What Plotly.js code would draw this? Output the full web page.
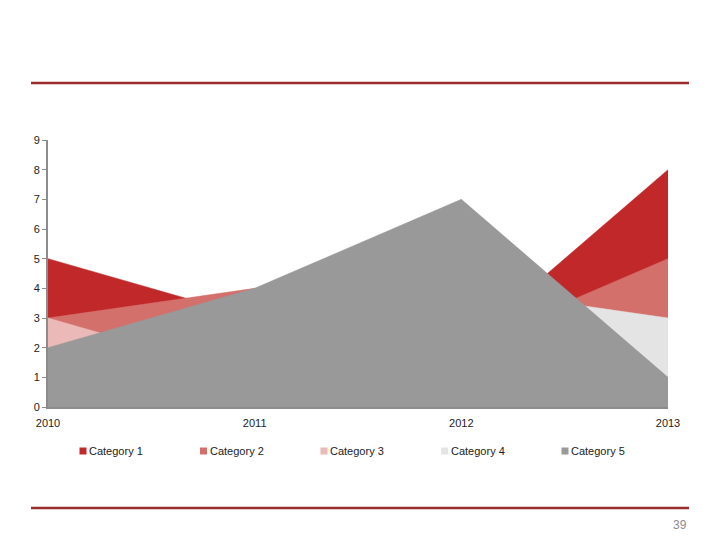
<!DOCTYPE html>
<html>
<head>
<meta charset="utf-8">
<script src="https://cdn.plot.ly/plotly-3.0.1.min.js"></script>
<style>html,body{margin:0;padding:0;background:#fff;}#chart{width:720px;height:540px;}</style>
</head>
<body>
<div id="chart"></div>
<script>
const years = [2010, 2011, 2012, 2013];
const seriesNames = ["Category 1", "Category 2", "Category 3", "Category 4", "Category 5"];
const cat1 = [5, 3, 2, 8];
const cat2 = [3, 4, 2, 5];
const cat3 = [3, 1, 2, 2];
const cat4 = [1, 2, 4, 3];
const cat5 = [2, 4, 7, 1];
const yTicks = [0, 1, 2, 3, 4, 5, 6, 7, 8, 9];
const pageNumber = "39";

const seriesValues = [cat1, cat2, cat3, cat4, cat5];
const colors = ["#C0282A", "#D4706C", "#EBB9B7", "#E4E4E4", "#999999"];
const fam = "'Liberation Sans', Arial, sans-serif";

const traces = [];
seriesValues.forEach((vals, i) => {
  traces.push({
    x: years, y: vals, type: "scatter", mode: "lines",
    fill: "tozeroy", fillcolor: colors[i],
    line: {color: colors[i], width: 0.5},
    showlegend: false, hoverinfo: "skip"
  });
});

// plot area: x 48..668, y 140..407
const W = 620, H = 267, L = 48, T = 140;
const px = (x) => (x - L) / W;
const py = (y) => (T + H - y) / H;

const shapes = [
  {type: "line", xref: "paper", yref: "paper", x0: px(31), x1: px(689), y0: py(83), y1: py(83), line: {color: "#9B2B2B", width: 2.5}},
  {type: "line", xref: "paper", yref: "paper", x0: px(31), x1: px(689), y0: py(508), y1: py(508), line: {color: "#9B2B2B", width: 2.5}}
];
const annotations = [
  {text: pageNumber, xref: "paper", yref: "paper", x: px(689), y: py(525), xanchor: "right", yanchor: "middle", showarrow: false, font: {family: fam, size: 12, color: "#8c8c8c"}}
];
seriesNames.forEach((n, i) => {
  const cx = 83 + 120.5 * i;
  shapes.push({type: "rect", xref: "paper", yref: "paper", x0: px(cx - 3.5), x1: px(cx + 3.5), y0: py(454.5), y1: py(447.5), fillcolor: colors[i], line: {width: 0}});
  annotations.push({text: n, xref: "paper", yref: "paper", x: px(cx + 4), y: py(451), xanchor: "left", yanchor: "middle", showarrow: false, font: {family: fam, size: 11, color: "#222222"}});
});

const layout = {
  width: 720, height: 540,
  margin: {l: L, r: 720 - L - W, t: T, b: 540 - T - H},
  paper_bgcolor: "#ffffff", plot_bgcolor: "#ffffff",
  font: {family: fam, size: 11, color: "#222222"},
  showlegend: false,
  xaxis: {
    range: [2010, 2013], tickvals: years, ticktext: years.map(String),
    showgrid: false, zeroline: false, showline: true, linecolor: "#8c8c8c", linewidth: 2,
    ticks: "outside", ticklen: 5, tickcolor: "rgba(0,0,0,0)", tickfont: {family: fam, size: 11, color: "#222222"}
  },
  yaxis: {
    range: [0, 9], tickvals: yTicks, showgrid: false, zeroline: false,
    showline: true, linecolor: "#8c8c8c", linewidth: 2,
    ticks: "outside", ticklen: 4, tickcolor: "#8c8c8c", tickwidth: 1,
    tickfont: {family: fam, size: 11, color: "#222222"}
  },
  shapes: shapes,
  annotations: annotations
};

Plotly.newPlot("chart", traces, layout, {displayModeBar: false, staticPlot: true});
</script>
</body>
</html>
